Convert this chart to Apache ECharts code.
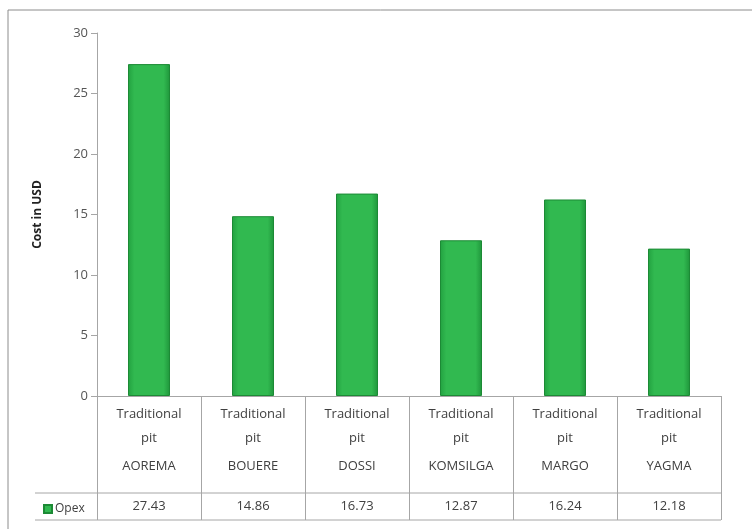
<!DOCTYPE html>
<html>
<head>
<meta charset="utf-8">
<script src="https://cdn.jsdelivr.net/npm/echarts@6/dist/echarts.min.js"></script>
<style>
  html, body { margin: 0; padding: 0; background: #fff; }
  #chart { width: 752px; height: 529px; }
</style>
</head>
<body>
<div id="chart"></div>
<script>
  // data
  var mines = ['AOREMA', 'BOUERE', 'DOSSI', 'KOMSILGA', 'MARGO', 'YAGMA']
  var pitType = 'Traditional\npit'
  var opex = [27.43, 14.86, 16.73, 12.87, 16.24, 12.18]
  var yTicks = [0, 5, 10, 15, 20, 25, 30]

  var font = 'Open Sans'
  var txt = '#404040'
  var rule = '#a6a6a6'

  var chart = echarts.init(document.getElementById('chart'))
  chart.setOption({
    animation: false,
    textStyle: { fontFamily: font },
    grid: { left: 97, right: 31, top: 33, bottom: 133 },
    legend: {
      left: 38,
      top: 498,
      itemWidth: 8,
      itemHeight: 8,
      itemGap: 4,
      textStyle: { fontFamily: font, fontSize: 12, color: txt, padding: [0, 0, 0, -2] },
      data: [{ name: 'Opex', icon: 'rect' }]
    },
    xAxis: [{
      type: 'category',
      data: mines,
      axisLine: { lineStyle: { color: rule } },
      axisTick: { show: true, interval: 0, length: 124, lineStyle: { color: rule } },
      axisLabel: {
        interval: 0,
        margin: 6,
        formatter: function (v) {
          var p = pitType.split('\n')
          return '{t|' + p[0] + '}\n{t|' + p[1] + '}\n{c|' + v + '}'
        },
        rich: {
          t: { fontFamily: font, fontSize: 13, color: txt, lineHeight: 24, align: 'center' },
          c: { fontFamily: font, fontSize: 13, color: txt, lineHeight: 32, align: 'center' }
        }
      }
    }, {
      type: 'category',
      data: mines,
      position: 'bottom',
      offset: 97,
      axisLine: { show: false },
      axisTick: { show: false },
      axisLabel: {
        interval: 0,
        margin: 7,
        fontFamily: font,
        fontSize: 13,
        color: txt,
        formatter: function (v, i) { return opex[i].toFixed(2) }
      }
    }],
    yAxis: {
      type: 'value',
      min: yTicks[0],
      max: yTicks[yTicks.length - 1],
      interval: 5,
      name: 'Cost in USD',
      nameLocation: 'middle',
      nameGap: 53,
      nameRotate: 90,
      nameTextStyle: { fontFamily: font, fontSize: 12, fontWeight: 'bold', color: '#222' },
      axisLine: { show: true, lineStyle: { color: rule } },
      axisTick: { show: true, length: 6, lineStyle: { color: rule } },
      axisLabel: { margin: 9, fontFamily: font, fontSize: 13, color: '#555' },
      splitLine: { show: false }
    },
    series: [{
      name: 'Opex',
      type: 'bar',
      barWidth: 42,
      data: opex,
      itemStyle: {
        borderColor: '#1c8a35',
        borderWidth: 1,
        color: new echarts.graphic.LinearGradient(0, 0, 1, 0, [
          { offset: 0, color: '#22a140' },
          { offset: 0.15, color: '#31b950' },
          { offset: 0.85, color: '#31b950' },
          { offset: 1, color: '#1f953b' }
        ])
      }
    }],
    color: ['#2aae4a'],
    graphic: [
      // outer chart frame
      { type: 'rect', shape: { x: 8, y: 10, width: 760, height: 540 }, style: { fill: 'none', stroke: '#8c8c8c', lineWidth: 1 } },
      // data-table rules
      { type: 'line', shape: { x1: 35, y1: 493, x2: 721, y2: 493 }, style: { stroke: rule, lineWidth: 1 } },
      { type: 'line', shape: { x1: 35, y1: 520, x2: 721, y2: 520 }, style: { stroke: rule, lineWidth: 1 } }
    ]
  })
</script>
</body>
</html>
